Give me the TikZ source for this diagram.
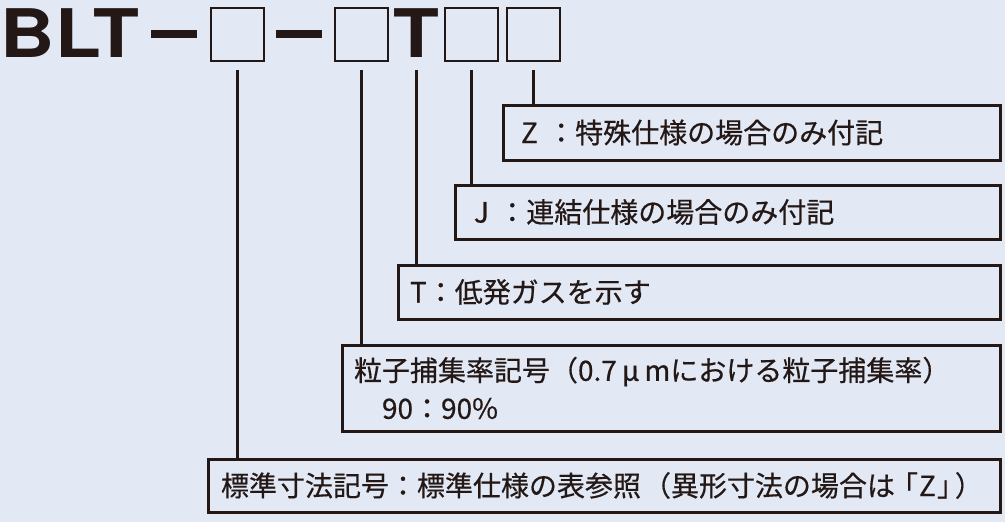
\documentclass[tikz,border=0pt]{standalone}
\usepackage{fontspec}
\usepackage{graphicx}
\newfontfamily\jp[FakeBold=0.5]{Noto Sans CJK JP}
\newfontfamily\heros{TeX Gyre Heros}
\definecolor{bg}{RGB}{226,233,245}
\definecolor{ink}{RGB}{35,24,21}
\begin{document}
\begin{tikzpicture}[x=1pt,y=-1pt,
  every node/.style={inner sep=0pt, outer sep=0pt},
  titlebox/.style={draw=ink, line width=1.6pt, minimum width=53pt, minimum height=53pt, anchor=north west},
  dashbar/.style={fill=ink, minimum width=46pt, minimum height=8pt, anchor=north west},
  titletext/.style={font=\heros\bfseries\fontsize{67}{67}\selectfont, text=ink, anchor=base west},
  descbox/.style={draw=ink, line width=3pt, anchor=north west, align=left, font=\jp\fontsize{28}{38}\selectfont, text=ink},
  link/.style={draw=ink, line width=3pt}]
\fill[bg] (0,0) rectangle (1005,522);
\useasboundingbox (0,0) rectangle (1005,522);
% title
\node[titletext] (blt) at (1,57) {\scalebox{1.12}[1]{BLT}};
\node[dashbar] (d1) at (151,30) {};
\node[titlebox] (b1) at (211,8) {};
\node[dashbar] (d2) at (276,30) {};
\node[titlebox] (b2) at (335,8) {};
\node[titletext] (t) at (393.5,57) {\scalebox{1.12}[1]{T}};
\node[titlebox] (b3) at (445,8) {};
\node[titlebox] (b4) at (507,8) {};
% description boxes
\node[descbox, minimum height=55pt, inner xsep=18pt, text width=461pt] (zbox) at (503,105) {Z ：特殊仕様の場合のみ付記};
\node[descbox, minimum height=54pt, inner xsep=19pt, text width=507pt] (jbox) at (455,185) {J ：連結仕様の場合のみ付記};
\node[descbox, minimum height=54pt, inner xsep=12pt, text width=578pt] (tbox) at (398,265) {T：低発ガスを示す};
\node[descbox, minimum height=86pt, inner xsep=12pt, text width=634pt] (pbox) at (342,345) {粒子捕集率記号（0.7\hspace{5pt}μ\hspace{5pt}mにおける粒子捕集率）\\　90：90\%};
\node[descbox, minimum height=53pt, inner xsep=13pt, text width=766pt] (sbox) at (208,459) {標準寸法記号：標準仕様の表参照\hspace{2pt}（異形寸法の場合は\hspace{9pt}｢\hspace{1pt}Z\hspace{1pt}｣\hspace{4pt}）};
% connectors
\draw[link] ([yshift=-9pt]b1.south) -- (b1.south |- sbox.north);
\draw[link] ([yshift=-9pt]b2.south) -- (b2.south |- pbox.north);
\draw[link] ([yshift=-13pt]t.base) -- (t.base |- tbox.north);
\draw[link] ([yshift=-9pt]b3.south) -- (b3.south |- jbox.north);
\draw[link] ([yshift=-9pt]b4.south) -- (b4.south |- zbox.north);
\end{tikzpicture}
\end{document}
